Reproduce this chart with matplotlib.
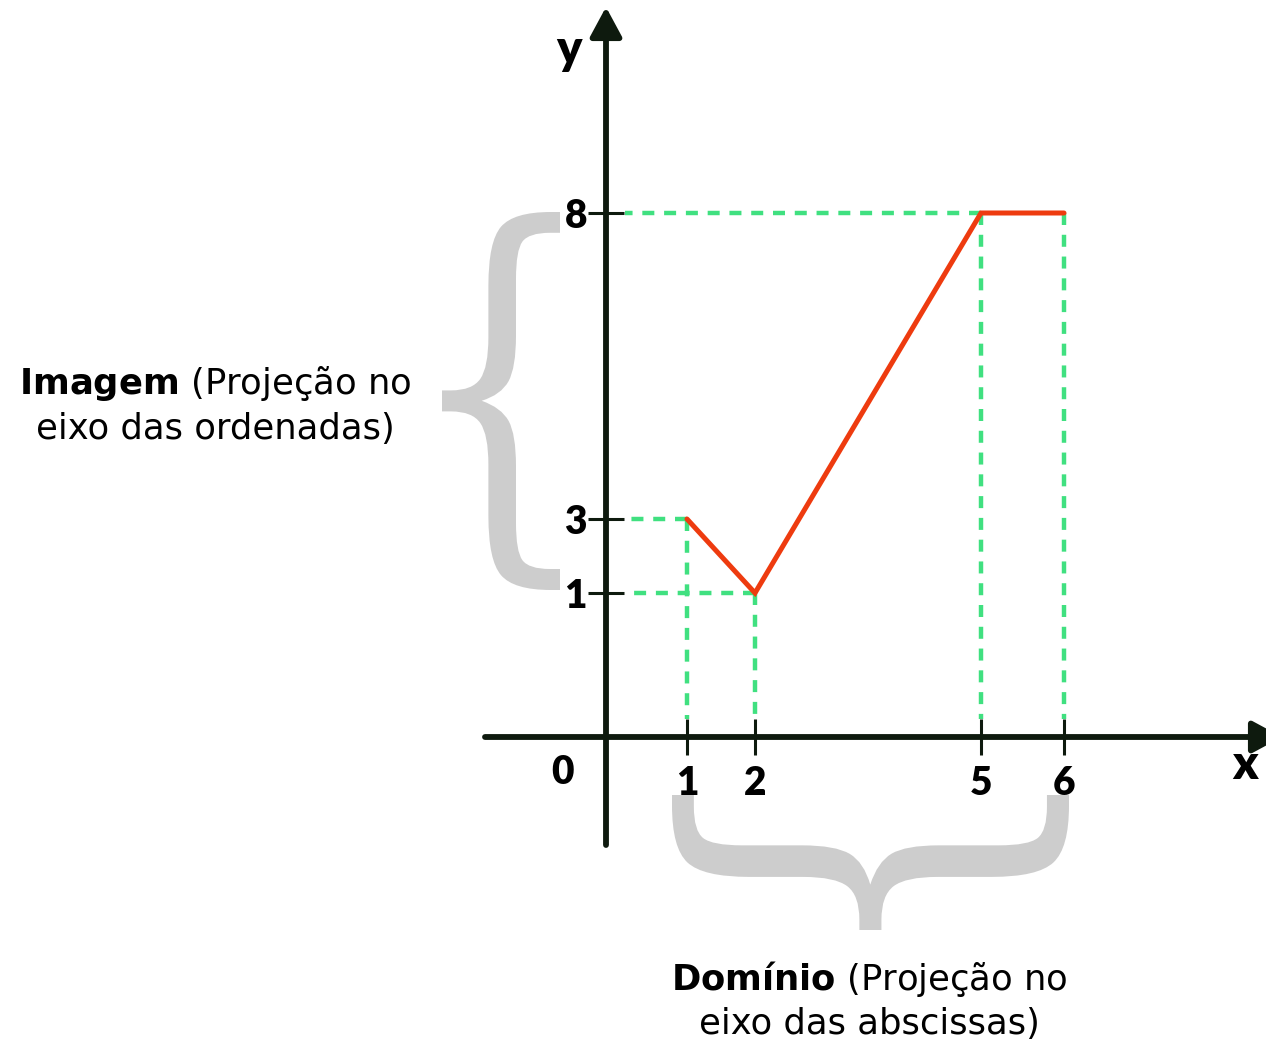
import numpy as np
import matplotlib
matplotlib.use("Agg")
import matplotlib.pyplot as plt
from matplotlib.textpath import TextPath
from matplotlib.font_manager import FontProperties
from matplotlib.patches import PathPatch
from matplotlib.transforms import Affine2D, IdentityTransform
from matplotlib.scale import FuncScale

# data
x_vals = [1, 2, 5, 6]
y_vals = [3, 1, 8, 8]
x_ticks = [1, 2, 5, 6]
y_ticks = [1, 3, 8]
tick_labels_x = ["1", "2", "5", "6"]
tick_labels_y = ["1", "3", "8"]

# schematic (non-uniform) axes: where each tick value sits, in pixels from the origin
x_knots, x_pix = [0, 1, 2, 5, 6], [0, 81, 149, 375, 458]
y_knots, y_pix = [0, 1, 3, 8], [0, 144, 218, 524]

AXIS_C = "#0e1a0e"
GREEN = "#40e080"
RED = "#ee3b0f"
GREY = "#cdcdcd"

plt.rcParams["font.family"] = ["Lato", "DejaVu Sans"]
plt.rcParams["mathtext.fontset"] = "custom"
plt.rcParams["mathtext.rm"] = "DejaVu Sans"
plt.rcParams["mathtext.bf"] = "DejaVu Sans:bold"


def piecewise(knots, pix, lo, hi):
    k = np.r_[knots[0] - 1e4, knots, knots[-1] + 1e4]
    p = np.r_[pix[0] - 1e4 * lo, pix, pix[-1] + 1e4 * hi]
    fwd = lambda v: np.interp(v, k, p)
    inv = lambda v: np.interp(v, p, k)
    return fwd, inv


xf, xi = piecewise(x_knots, x_pix, 75, 80)
yf, yi = piecewise(y_knots, y_pix, 65, 61)

fig = plt.figure(figsize=(12.66, 10.41), dpi=100)
ax = fig.add_axes([0, 0, 1, 1])
ax.set_xscale(FuncScale(ax.xaxis, (xf, xi)))
ax.set_yscale(FuncScale(ax.yaxis, (yf, yi)))
ax.set_xlim(xi(-606), xi(660))
ax.set_ylim(yi(-304), yi(737))
ax.patch.set_alpha(0)

for s in ax.spines.values():
    s.set_visible(False)
ax.spines["left"].set_position(("data", 0))
ax.spines["bottom"].set_position(("data", 0))

TICK_HALF = 18  # px
ax.set_xticks(x_ticks, tick_labels_x)
ax.set_yticks(y_ticks, tick_labels_y)
ax.tick_params(direction="inout", length=26.5, width=2.2, color=AXIS_C,
               labelsize=28, labelcolor="black")
ax.tick_params(axis="x", pad=7)
ax.tick_params(axis="y", pad=0.5)
for t in ax.get_xticklabels() + ax.get_yticklabels():
    t.set_fontweight("heavy")

# green projection guides
g_kw = dict(color=GREEN, lw=3.2, linestyle=(0, (2.7, 2.2)), zorder=2)
y_stop = yi(TICK_HALF)
x_stop = xi(TICK_HALF + 1)
for xv, yv in zip(x_vals, y_vals):
    ax.plot([xv, xv], [yv, y_stop], **g_kw)
for yv in sorted(set(y_vals)):
    xs = min(xv for xv, v in zip(x_vals, y_vals) if v == yv)
    ax.plot([xs, x_stop], [yv, yv], **g_kw)

# function graph
ax.plot(x_vals, y_vals, color=RED, lw=3.6, solid_capstyle="round",
        solid_joinstyle="miter", zorder=3)

# axes with arrows
arr = dict(arrowstyle="-|>,head_length=18,head_width=9.7", mutation_scale=1,
           lw=4.2, color=AXIS_C, shrinkA=0, shrinkB=0, capstyle="round")
ax.annotate("", xy=(0, yi(730)), xytext=(0, yi(-108)), arrowprops=arr,
            zorder=4, annotation_clip=False)
ax.annotate("", xy=(xi(676), 0), xytext=(xi(-121), 0), arrowprops=arr,
            zorder=4, annotation_clip=False)

ax.annotate("0", xy=(0, 0), xytext=(-43, -36), textcoords="offset pixels",
            ha="center", va="center", fontsize=28, fontweight="heavy")
fig.text(569 / 1266, 1 - 50 / 1041, "y", ha="center", va="center",
         fontsize=34, fontweight="heavy")
fig.text(1245 / 1266, 1 - 765 / 1041, "x", ha="center", va="center",
         fontsize=34, fontweight="heavy")


# braces built from a serif "{" glyph stretched to a box (display pixels)
def brace(x0, y0, x1, y1, rotate=False):
    tp = TextPath((0, 0), "{", size=100, prop=FontProperties(family="DejaVu Serif"))
    if rotate:
        tp = tp.transformed(Affine2D().rotate_deg(90))
    e = tp.get_extents()
    tr = (Affine2D().translate(-e.x0, -e.y0)
          .scale((x1 - x0) / e.width, (y1 - y0) / e.height)
          .translate(x0, y0))
    p = PathPatch(tr.transform_path(tp), transform=IdentityTransform(),
                  fc=GREY, ec="none", zorder=1)
    fig.add_artist(p)


ox, oy = ax.transData.transform((0, 0))
_, y1d = ax.transData.transform((0, 1))
_, y8d = ax.transData.transform((0, 8))
x1d, _ = ax.transData.transform((1, 0))
x6d, _ = ax.transData.transform((6, 0))
brace(ox - 164, y1d + 3, ox - 46, y8d + 1)
brace(x1d - 15, oy - 193, x6d + 5, oy - 58, rotate=True)

lbl = dict(ha="center", va="center", multialignment="center", fontsize=25.5,
           linespacing=1.32, family="DejaVu Sans")
fig.text(215 / 1266, 1 - 405 / 1041,
         "$\\mathbf{Imagem}$ (Projeção no\neixo das ordenadas)", **lbl)
fig.text(869 / 1266, 1 - 1000 / 1041,
         "$\\mathbf{Domínio}$ (Projeção no\neixo das abscissas)", **lbl)

fig.savefig("out.png", dpi=100)
